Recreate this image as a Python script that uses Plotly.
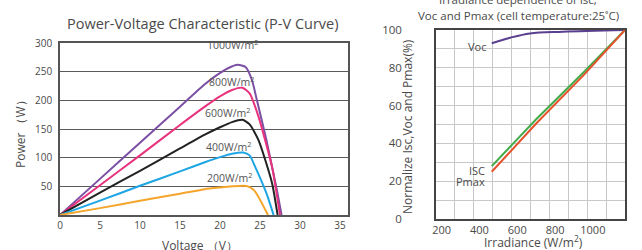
import plotly.graph_objects as go

# ---------------- Data: P-V curves (left) ----------------
V_1000 = [0, 5, 10, 15, 18.1, 19.6, 21.0, 22.2, 23.2, 24.0, 24.6, 25.8, 27.1, 27.7]
P_1000 = [0, 63, 126, 189, 228, 244, 256, 262, 258, 235, 201, 131, 44, 0]
V_800 = [0, 5, 10, 15, 18.1, 20.0, 21.5, 22.8, 23.7, 24.8, 26.5, 27.5]
P_800 = [0, 52, 104, 157, 189, 207, 218, 222, 212, 172, 84, 0]
V_600 = [0, 5, 10, 15, 18.1, 20.0, 21.5, 22.8, 23.7, 24.8, 26.5, 27.2]
P_600 = [0, 39, 77, 116, 140, 153, 162, 166, 158, 131, 56, 0]
V_400 = [0, 5, 10, 15, 18.1, 20.0, 21.5, 22.9, 23.7, 24.4, 25.8, 26.7]
P_400 = [0, 25, 51, 76, 92, 101, 107, 109, 104, 84, 38, 0]
V_200 = [0, 5, 10, 15, 18.1, 20.0, 21.5, 23.3, 24.2, 24.8, 26.0]
P_200 = [0, 12, 25, 37, 45, 48, 50, 50.6, 44, 32, 0]

curve_labels = ["1000W/m<sup>2</sup>", "800W/m<sup>2</sup>", "600W/m<sup>2</sup>",
                "400W/m<sup>2</sup>", "200W/m<sup>2</sup>"]
label_V = [21.6, 21.4, 20.9, 21.0, 21.2]
label_P = [297, 232, 178, 119, 66]

x_ticks_left = [0, 5, 10, 15, 20, 25, 30, 35]
y_ticks_left = [50, 100, 150, 200, 250, 300]

# ---------------- Data: irradiance dependence (right) ----------------
irr_voc = [465, 562, 667, 842, 1170]
voc = [93, 95.9, 98.2, 99.1, 100]
irr_isc = [465, 700, 950, 1170]
isc = [28, 52.8, 77.5, 100]
irr_pmax = [465, 700, 950, 1170]
pmax = [25, 50.5, 76, 100]

x_ticks_right = [200, 400, 600, 800, 1000]
y_ticks_right = [0, 20, 40, 60, 80, 100]

FONT = "Open Sans"
TXT = "#4a4a4a"
W, H = 642, 250

def px(x):
    return x / W

def py(y):
    return (H - y) / H

fig = go.Figure()

colors = ["#7b4fa3", "#e8327c", "#222222", "#1ea5e3", "#f5a52a"]
for V, P, c in zip([V_1000, V_800, V_600, V_400, V_200],
                   [P_1000, P_800, P_600, P_400, P_200], colors):
    fig.add_trace(go.Scatter(x=V, y=P, mode="lines", line=dict(color=c, width=2, shape="spline", smoothing=0.6),
                             xaxis="x", yaxis="y", showlegend=False, hoverinfo="skip"))

fig.add_trace(go.Scatter(x=irr_voc, y=voc, mode="lines", line=dict(color="#5b3f8f", width=2, shape="spline"),
                         xaxis="x2", yaxis="y2", showlegend=False))
fig.add_trace(go.Scatter(x=irr_isc, y=isc, mode="lines", line=dict(color="#3faa48", width=2),
                         xaxis="x2", yaxis="y2", showlegend=False))
fig.add_trace(go.Scatter(x=irr_pmax, y=pmax, mode="lines", line=dict(color="#e5532c", width=2),
                         xaxis="x2", yaxis="y2", showlegend=False))

ann = []
for t, x, y in zip(curve_labels, label_V, label_P):
    ann.append(dict(text=t, x=x, y=y, xref="x", yref="y", showarrow=False,
                    xanchor="center", yanchor="middle",
                    font=dict(family=FONT, size=10.5, color="#555")))

def pann(text, x, y, size=12, angle=0):
    return dict(text=text, x=px(x), y=py(y), xref="paper", yref="paper", showarrow=False,
                xanchor="center", yanchor="middle", textangle=angle,
                font=dict(family=FONT, size=size, color=TXT))

ann += [
    dict(text="Voc", x=445, y=91.2, xref="x2", yref="y2", xanchor="right", yanchor="middle", showarrow=False,
         font=dict(family=FONT, size=11, color=TXT)),
    dict(text="ISC", x=442, y=25.6, xref="x2", yref="y2", xanchor="right", yanchor="middle", showarrow=False,
         font=dict(family=FONT, size=11, color=TXT)),
    dict(text="Pmax", x=442, y=19.8, xref="x2", yref="y2", xanchor="right", yanchor="middle", showarrow=False,
         font=dict(family=FONT, size=11, color=TXT)),
    pann("Power-Voltage Characteristic (P-V Curve)", 203, 24, 14.5),
    pann("Irradiance dependence of Isc,", 518, -1, 11.5),
    pann("Voc and Pmax (cell temperature:25˚C)", 518, 15, 11.5),
    pann("Voltage （V）", 200, 245, 12),
    pann("Power （W）", 20, 131, 12, -90),
    pann("Normalize Isc,Voc and Pmax(%)", 407, 127, 12, -90),
    pann("Irradiance (W/m<sup>2</sup>)", 533, 242, 12),
]

fig.update_layout(
    width=W, height=H, margin=dict(l=0, r=0, t=0, b=0, autoexpand=False),
    paper_bgcolor="white", plot_bgcolor="white", annotations=ann,
    xaxis=dict(domain=[px(60), px(348)], range=[0, 36], tickvals=x_ticks_left, showgrid=False,
               zeroline=False, showline=True, linecolor="#555", linewidth=1.5, mirror=True,
               tickfont=dict(family=FONT, size=10, color=TXT), anchor="y"),
    yaxis=dict(domain=[py(215), py(43)], range=[0, 300], tickvals=y_ticks_left,
               showgrid=True, gridcolor="#5a5a5a", gridwidth=1.4, zeroline=False, showline=True,
               linecolor="#555", linewidth=1.5, mirror=True, ticklabelstandoff=4,
               tickfont=dict(family=FONT, size=10, color=TXT), anchor="x"),
    xaxis2=dict(domain=[px(436), px(625)], range=[170, 1170], tickvals=x_ticks_right, showgrid=False,
                minor=dict(tick0=170, dtick=100, showgrid=True, gridcolor="#c8c8c8", gridwidth=1),
                zeroline=False, showline=True, linecolor="#444", linewidth=1.5, mirror=True,
                tickfont=dict(family=FONT, size=11, color=TXT), anchor="y2"),
    yaxis2=dict(domain=[py(219), py(30)], range=[0, 100], tickvals=y_ticks_right, showgrid=False,
                minor=dict(tick0=0, dtick=10, showgrid=True, gridcolor="#c8c8c8", gridwidth=1),
                zeroline=False, showline=True, linecolor="#444", linewidth=1.5, mirror=True,
                ticklabelstandoff=30,
                tickfont=dict(family=FONT, size=11.5, color=TXT), anchor="x2"),
)

fig.write_html("out.html", config={"displayModeBar": False},
               post_script="document.body.style.margin='0px';")
